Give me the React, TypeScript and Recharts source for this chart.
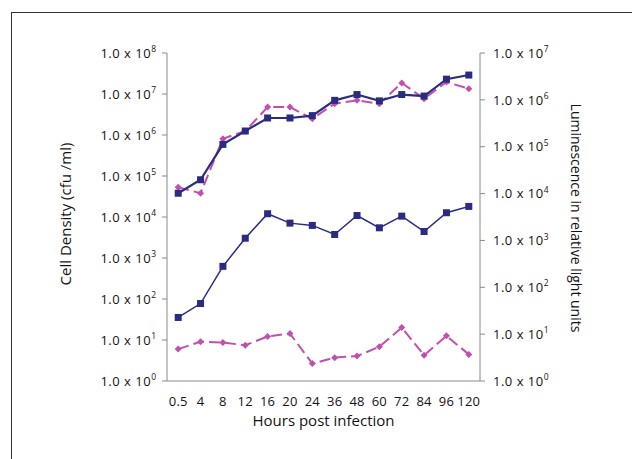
import React from 'react';
import { LineChart, Line, XAxis, YAxis } from 'recharts';

const hours: string[] = ['0.5', '4', '8', '12', '16', '20', '24', '36', '48', '60', '72', '84', '96', '120'];
const cellDensityA: number[] = [3.8e4, 8.1e4, 5.9e5, 1.25e6, 2.6e6, 2.6e6, 2.97e6, 7.0e6, 9.7e6, 6.8e6, 9.7e6, 8.9e6, 2.3e7, 2.9e7];
const cellDensityB: number[] = [5.3e4, 3.8e4, 8.1e5, 1.25e6, 4.8e6, 4.8e6, 2.5e6, 5.8e6, 7.0e6, 5.8e6, 1.86e7, 7.7e6, 1.96e7, 1.35e7];
const luminescenceA: number[] = [22.7, 45, 280, 1115, 3710, 2340, 2090, 1340, 3400, 1860, 3300, 1550, 3900, 5320];
const luminescenceB: number[] = [4.8, 6.9, 6.6, 5.8, 8.9, 10.3, 2.35, 3.15, 3.4, 5.4, 13.8, 3.55, 9.2, 3.7];
const leftTicks: number[] = [1, 1e1, 1e2, 1e3, 1e4, 1e5, 1e6, 1e7, 1e8];
const rightTicks: number[] = [1, 1e1, 1e2, 1e3, 1e4, 1e5, 1e6, 1e7];
const boundaryTicks: number[] = hours.map((_, i) => i).concat([hours.length]);

const data = hours.map((h, i) => ({
  hour: h,
  cdA: cellDensityA[i],
  cdB: cellDensityB[i],
  lumA: luminescenceA[i],
  lumB: luminescenceB[i],
}));

const BLUE = '#2b2b80';
const PINK = '#c24fae';
const AXIS = '#8a8a8a';
const TEXT = '#141213';
const FONT = '"Open Sans", "Noto Sans", sans-serif';

const LogTick = (props: any) => {
  const { x, y, payload, textAnchor } = props;
  const exp = Math.round(Math.log10(payload.value));
  return (
    <text x={x} y={y} dy="0.36em" textAnchor={textAnchor} fontSize={13} letterSpacing={0.5} fill={TEXT} fontFamily={FONT}>
      1.0 x 10
      <tspan dy={-5.5} fontSize={8.5} letterSpacing={0}>{exp}</tspan>
    </text>
  );
};

const HourTick = (props: any) => {
  const { x, y, payload } = props;
  return (
    <text x={x} y={y} dy="0.71em" textAnchor="middle" fontSize={13} letterSpacing={0.2} fill={TEXT} fontFamily={FONT}>
      {payload.value}
    </text>
  );
};

const Square = (props: any) => {
  const { cx, cy, index } = props;
  if (cx == null || cy == null) return null;
  return <rect key={index} x={cx - 3.5} y={cy - 3.5} width={7} height={7} fill={BLUE} />;
};

const Diamond = (props: any) => {
  const { cx, cy, index } = props;
  if (cx == null || cy == null) return null;
  const r = 3.5;
  return <polygon key={index} points={`${cx},${cy - r} ${cx + r},${cy} ${cx},${cy + r} ${cx - r},${cy}`} fill={PINK} />;
};

const XTitle = (props: any) => {
  const vb = props.viewBox || {};
  return (
    <text x={vb.x + vb.width / 2} y={vb.y + 45} textAnchor="middle" fontSize={15} fill={TEXT} fontFamily={FONT}>
      Hours post infection
    </text>
  );
};

const LeftTitle = (props: any) => {
  const vb = props.viewBox || {};
  const cx = vb.x + 71;
  const cy = vb.y + vb.height / 2 - 3;
  return (
    <text x={cx} y={cy} textAnchor="middle" fontSize={15} fill={TEXT} fontFamily={FONT} transform={`rotate(-90, ${cx}, ${cy})`}>
      Cell Density (cfu /ml)
    </text>
  );
};

const RightTitle = (props: any) => {
  const vb = props.viewBox || {};
  const cx = vb.x + 91;
  const cy = vb.y + vb.height / 2 + 1;
  return (
    <text x={cx} y={cy} textAnchor="middle" fontSize={14} fill={TEXT} fontFamily={FONT} transform={`rotate(90, ${cx}, ${cy})`}>
      Luminescence in relative light units
    </text>
  );
};

export default function App() {
  return (
    <div style={{ position: 'absolute', left: 0, top: 0, width: 632, height: 459, overflow: 'hidden', background: '#fff', fontFamily: FONT }}>
      <div style={{ position: 'absolute', left: 11, top: 12, width: 800, height: 800, border: '1.5px solid #333', boxSizing: 'border-box' }} />
      <div style={{ position: 'absolute', left: 0, top: 0 }}>
        <LineChart width={632} height={459} data={data} margin={{ top: 53, right: 0, bottom: 0, left: 0 }}>
          <XAxis
            xAxisId="grid"
            type="number"
            domain={[0, hours.length]}
            ticks={boundaryTicks}
            allowDataOverflow
            height={0}
            tick={false}
            axisLine={false}
            tickLine={{ stroke: AXIS }}
            tickSize={4}
          />
          <XAxis
            xAxisId="cat"
            dataKey="hour"
            height={78}
            padding={{ left: 11.2, right: 11.2 }}
            stroke={AXIS}
            axisLine={{ stroke: AXIS }}
            tickLine={false}
            tickSize={0}
            tickMargin={16}
            tick={<HourTick />}
            interval={0}
            label={<XTitle />}
          />
          <YAxis
            yAxisId="left"
            orientation="left"
            width={167}
            scale="log"
            domain={[1, 1e8]}
            ticks={leftTicks}
            allowDataOverflow
            axisLine={{ stroke: AXIS }}
            tickLine={{ stroke: AXIS }}
            tickSize={5}
            tickMargin={6}
            tick={<LogTick />}
            interval={0}
            label={<LeftTitle />}
          />
          <YAxis
            yAxisId="right"
            orientation="right"
            width={152}
            scale="log"
            domain={[1, 1e7]}
            ticks={rightTicks}
            allowDataOverflow
            axisLine={{ stroke: AXIS }}
            tickLine={{ stroke: AXIS }}
            tickSize={5}
            tickMargin={8}
            tick={<LogTick />}
            interval={0}
            label={<RightTitle />}
          />
          <Line xAxisId="cat" yAxisId="left" dataKey="cdB" stroke={PINK} strokeWidth={2} strokeDasharray="11 5" dot={<Diamond />} activeDot={false} isAnimationActive={false} />
          <Line xAxisId="cat" yAxisId="left" dataKey="cdA" stroke={BLUE} strokeWidth={2.2} dot={<Square />} activeDot={false} isAnimationActive={false} />
          <Line xAxisId="cat" yAxisId="right" dataKey="lumB" stroke={PINK} strokeWidth={2} strokeDasharray="11 5" dot={<Diamond />} activeDot={false} isAnimationActive={false} />
          <Line xAxisId="cat" yAxisId="right" dataKey="lumA" stroke={BLUE} strokeWidth={1.5} dot={<Square />} activeDot={false} isAnimationActive={false} />
        </LineChart>
      </div>
    </div>
  );
}
